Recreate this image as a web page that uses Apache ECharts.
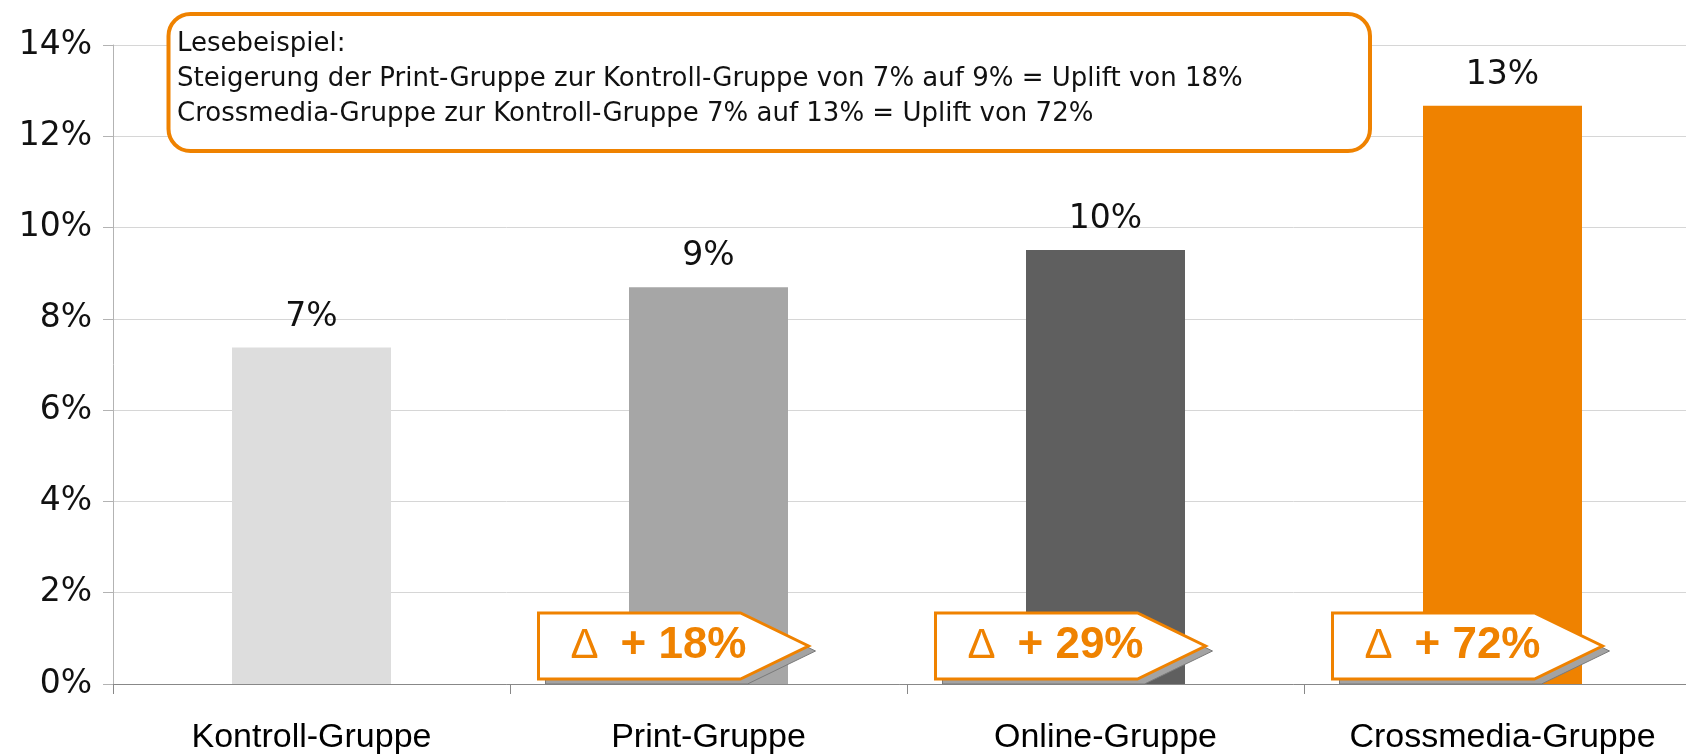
<!DOCTYPE html>
<html>
<head>
<meta charset="utf-8">
<title>Uplift nach Gruppe</title>
<script src="https://cdn.jsdelivr.net/npm/echarts@6/dist/echarts.min.js"></script>
<style>
  html, body { margin: 0; padding: 0; background: #fff; }
  #chart { width: 1686px; height: 754px; }
</style>
</head>
<body>
<div id="chart"></div>
<script>
// Daten
var categories = ['Kontroll-Gruppe', 'Print-Gruppe', 'Online-Gruppe', 'Crossmedia-Gruppe'];
var rates = [7.37, 8.69, 9.51, 12.67];
var barColors = ['#dddddd', '#a6a6a6', '#5f5f5f', '#ef8200'];
var upliftLabels = ['', '+ 18%', '+ 29%', '+ 72%'];
var noteLines = [
  'Lesebeispiel:',
  'Steigerung der Print-Gruppe zur Kontroll-Gruppe von 7% auf 9% = Uplift von 18%',
  'Crossmedia-Gruppe zur Kontroll-Gruppe 7% auf 13% = Uplift von 72%'
];

var orange = '#ef8200';
var chart = echarts.init(document.getElementById('chart'));

// Pfeil-Kaestchen mit dem Uplift, am Fuss der Balken
function renderUplift(params, api) {
  var base = api.coord([api.value(0), 0]);
  var left = base[0] - 170;
  var rectRight = left + 202;
  var tip = left + 270;
  var top = base[1] - 71;
  var bottom = base[1] - 5;
  var mid = (top + bottom) / 2;
  var pts = [[left, top], [rectRight, top], [tip, mid], [rectRight, bottom], [left, bottom]];
  var shadow = pts.map(function (p) { return [p[0] + 7, p[1] + 5]; });
  return {
    type: 'group',
    children: [
      { type: 'polygon', shape: { points: shadow },
        style: { fill: '#a3a3a3', stroke: '#7a7a7a', lineWidth: 1 } },
      { type: 'polygon', shape: { points: pts },
        style: { fill: '#ffffff', stroke: orange, lineWidth: 3 } },
      { type: 'text', x: left + 32, y: mid,
        style: { text: 'Δ', fill: orange, font: '42px "Liberation Sans"', verticalAlign: 'middle' } },
      { type: 'text', x: left + 82, y: mid,
        style: { text: upliftLabels[api.value(0)], fill: orange,
          font: 'bold 44px "Liberation Sans"', verticalAlign: 'middle' } }
    ]
  };
}

var upliftData = [];
categories.forEach(function (c, i) {
  if (upliftLabels[i]) upliftData.push([i, 0]);
});

chart.setOption({
  animation: false,
  backgroundColor: '#ffffff',
  // die letzte Kategorie laeuft rechts etwas aus dem Bild
  grid: { left: 113, top: 45, bottom: 70, right: -15, outerBoundsMode: 'none' },
  xAxis: {
    type: 'category',
    data: categories,
    axisLine: { lineStyle: { color: '#888888', width: 1 } },
    axisTick: { show: true, length: 10, interval: 0, lineStyle: { color: '#888888' } },
    axisLabel: { interval: 0, margin: 37, fontFamily: 'Liberation Sans', fontSize: 34, color: '#000' }
  },
  yAxis: {
    type: 'value',
    min: 0,
    max: 14,
    interval: 2,
    axisLine: { show: true, lineStyle: { color: '#b3b3b3' } },
    axisTick: { show: true, length: 10, lineStyle: { color: '#b3b3b3' } },
    axisLabel: { formatter: '{value}%', margin: 21, fontFamily: 'DejaVu Sans', fontSize: 33, color: '#111' },
    splitLine: { lineStyle: { color: '#d6d6d6' } }
  },
  series: [
    {
      type: 'bar',
      barWidth: 159,
      data: rates.map(function (v, i) {
        return { value: v, itemStyle: { color: barColors[i] } };
      }),
      label: {
        show: true,
        position: 'top',
        distance: 14,
        fontFamily: 'DejaVu Sans',
        fontSize: 33,
        color: '#111',
        formatter: function (p) { return Math.round(p.value) + '%'; }
      }
    },
    {
      type: 'custom',
      renderItem: renderUplift,
      data: upliftData,
      encode: { x: 0, y: 1 },
      clip: false,
      z: 5,
      silent: true
    }
  ],
  graphic: [
    { type: 'rect', z: 100, shape: { x: 168.5, y: 14, width: 1201.5, height: 137, r: 22 },
      style: { fill: '#ffffff', stroke: orange, lineWidth: 4 } },
    { type: 'text', z: 101, x: 177, y: 44,
      style: { text: noteLines[0], font: '26px "DejaVu Sans"', fill: '#111', verticalAlign: 'middle' } },
    { type: 'text', z: 101, x: 177, y: 79,
      style: { text: noteLines[1], font: '26px "DejaVu Sans"', fill: '#111', verticalAlign: 'middle' } },
    { type: 'text', z: 101, x: 177, y: 114.5,
      style: { text: noteLines[2], font: '26px "DejaVu Sans"', fill: '#111', verticalAlign: 'middle' } }
  ]
});
</script>
</body>
</html>
